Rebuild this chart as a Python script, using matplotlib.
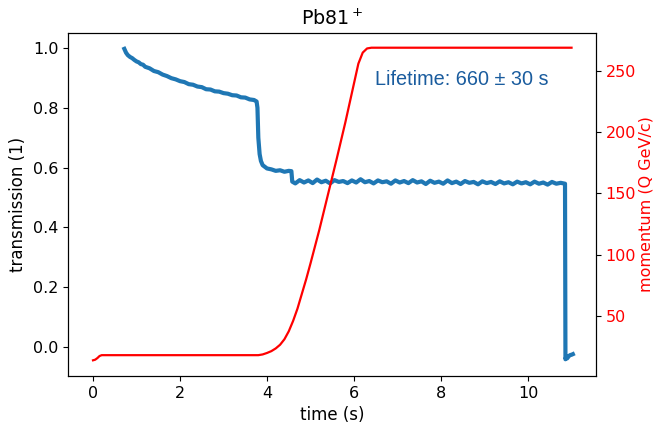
import matplotlib
matplotlib.use("Agg")
import matplotlib.pyplot as plt

# transmission readings (blue)
t_trans = [0.72, 0.76, 0.80, 0.85, 0.90, 0.95, 1.00, 1.05, 1.10, 1.15, 1.20, 1.30, 1.40, 1.50,
           1.60, 1.70, 1.80, 1.90, 2.00, 2.10, 2.20, 2.30, 2.40, 2.50, 2.60, 2.70,
           2.80, 2.90, 3.00, 3.10, 3.20, 3.30, 3.40, 3.50, 3.60, 3.70, 3.76, 3.78,
           3.80, 3.83, 3.86, 3.90, 4.00, 4.10, 4.20, 4.30, 4.40, 4.50, 4.56, 4.58,
           4.65, 4.75, 4.85, 4.95, 5.05, 5.15, 5.25, 5.35, 5.45, 5.55, 5.65, 5.75,
           5.85, 5.95, 6.05, 6.15, 6.25, 6.35, 6.45, 6.55, 6.65, 6.75, 6.85, 6.95,
           7.05, 7.15, 7.25, 7.35, 7.45, 7.55, 7.65, 7.75, 7.85, 7.95, 8.05, 8.15,
           8.25, 8.35, 8.45, 8.55, 8.65, 8.75, 8.85, 8.95, 9.05, 9.15, 9.25, 9.35,
           9.45, 9.55, 9.65, 9.75, 9.85, 9.95, 10.05, 10.15, 10.25, 10.35, 10.45,
           10.55, 10.65, 10.75, 10.85, 10.86, 10.87, 10.90, 10.94, 10.97, 11.00, 11.03]
trans = [0.997, 0.984, 0.976, 0.970, 0.966, 0.960, 0.955, 0.952, 0.946, 0.944, 0.937, 0.932, 0.923, 0.919,
         0.911, 0.906, 0.899, 0.895, 0.889, 0.886, 0.879, 0.877, 0.871, 0.869, 0.862, 0.861,
         0.855, 0.854, 0.849, 0.847, 0.842, 0.841, 0.835, 0.834, 0.828, 0.826, 0.821, 0.800,
         0.700, 0.645, 0.622, 0.608, 0.597, 0.594, 0.589, 0.591, 0.586, 0.589, 0.588, 0.553,
         0.547, 0.558, 0.550, 0.557, 0.548, 0.560, 0.551, 0.556, 0.547, 0.558, 0.552, 0.555,
         0.548, 0.557, 0.550, 0.561, 0.551, 0.555, 0.547, 0.557, 0.551, 0.554, 0.546, 0.557,
         0.550, 0.555, 0.548, 0.558, 0.550, 0.554, 0.545, 0.556, 0.549, 0.553, 0.546, 0.557,
         0.548, 0.553, 0.545, 0.555, 0.549, 0.552, 0.544, 0.554, 0.548, 0.552, 0.545, 0.554,
         0.547, 0.551, 0.544, 0.553, 0.547, 0.551, 0.544, 0.553, 0.546, 0.550, 0.543, 0.552,
         0.546, 0.549, 0.546, -0.041, -0.036, -0.038, -0.030, -0.027, -0.026, -0.024]

# momentum ramp (red)
t_mom = [0.00, 0.05, 0.10, 0.15, 0.20, 3.80, 3.90, 4.00, 4.10, 4.20, 4.30, 4.40, 4.50,
         4.60, 4.70, 4.80, 4.90, 5.00, 5.20, 5.40, 5.60, 5.80, 6.00, 6.10, 6.20, 6.30,
         6.40, 11.00]
momentum = [13.8, 14.3, 15.6, 17.3, 18.0, 18.0, 18.6, 19.8, 21.3, 23.5, 26.5, 31.0, 37.5,
            46.0, 56.0, 68.0, 80.0, 93.0, 120.0, 149.0, 178.0, 208.0, 240.0, 256.0, 265.0, 268.4,
            269.0, 269.0]

plt.rcParams["font.size"] = 11.5

fig, ax = plt.subplots(figsize=(6.57, 4.26), dpi=100)
fig.subplots_adjust(left=0.1035, right=0.907, top=0.9225, bottom=0.1174)

ax.plot(t_trans, trans, color="#1f77b4", lw=3.0)
ax.set_xlim(-0.575, 11.56)
ax.set_ylim(-0.097, 1.05)
ax.set_xlabel("time (s)", fontsize=12)
ax.set_ylabel("transmission (1)", fontsize=12)
ax.set_title(r"Pb81$^+$", fontsize=13.8)
ax.text(6.48, 0.893, "Lifetime: 660 \u00b1 30 s", color="#1a5c9e", fontsize=14.3,
        family=["Liberation Sans", "DejaVu Sans"], va="center", ha="left")

ax2 = ax.twinx()
ax2.plot(t_mom, momentum, color="red", lw=1.6)
ax2.set_ylim(1, 281)
ax2.set_ylabel("momentum (Q GeV/c)", color="red", fontsize=11.5, labelpad=2)
ax2.tick_params(axis="y", labelcolor="red")

fig.savefig("out.png", dpi=100)
